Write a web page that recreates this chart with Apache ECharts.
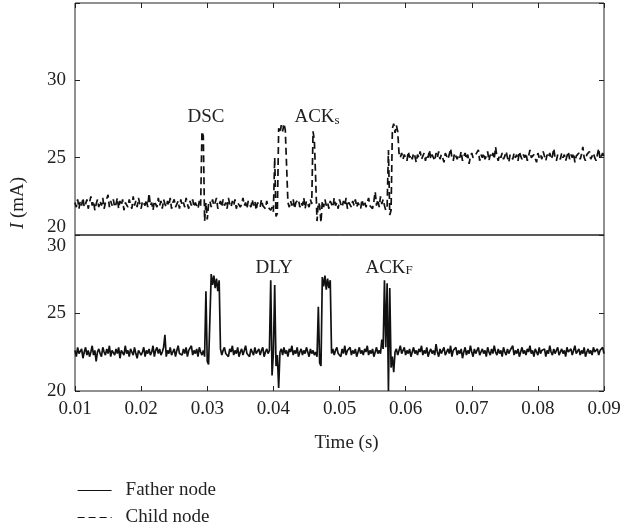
<!DOCTYPE html>
<html>
<head>
<meta charset="utf-8">
<script src="https://cdn.jsdelivr.net/npm/echarts@6/dist/echarts.min.js"></script>
<style>html,body{margin:0;padding:0;background:#fff}#c{width:625px;height:529px}</style>
</head>
<body>
<div id="c"></div>
<script>
// Sampling of both traces (seconds)
const timeStart = 0.01;
const timeStep = 0.0002;
const xTicks = [0.01, 0.02, 0.03, 0.04, 0.05, 0.06, 0.07, 0.08, 0.09];
const topTicks = [20, 25, 30];
const bottomTicks = [20, 25, 30];

// Child node current (mA), top panel
const childCurrent = [
22.1,21.8,22.3,21.7,22.2,21.9,22.4,21.8,22.0,22.3,
21.7,22.1,22.5,21.9,22.2,21.6,22.0,22.3,21.8,22.2,
21.9,22.4,21.7,22.1,22.0,22.6,21.8,22.2,21.9,22.3,
21.8,22.0,22.4,21.7,22.2,21.9,22.3,21.6,22.1,22.2,
21.8,22.3,22.0,21.7,22.5,21.9,22.2,21.8,22.4,22.0,
21.7,22.2,22.1,21.9,22.3,21.8,22.7,21.9,22.1,21.6,
22.2,22.0,21.8,22.4,21.9,22.2,21.7,22.3,22.0,21.8,
22.2,21.9,22.4,21.7,22.1,22.3,21.8,22.0,22.2,21.7,
22.3,21.9,22.1,21.8,22.4,22.0,21.7,22.2,21.9,22.3,
21.8,22.1,22.0,21.7,22.2,21.9,26.7,26.4,20.9,22.1,
21.0,22.0,22.2,21.8,22.3,21.9,22.1,22.4,21.7,22.0,
22.2,21.8,22.3,21.9,22.1,21.7,22.4,22.0,21.8,22.2,
21.9,22.3,21.7,22.1,22.2,21.8,22.0,22.4,21.9,22.1,
21.7,22.2,22.0,21.8,22.3,21.9,22.2,21.6,22.1,22.0,
21.8,22.3,21.9,22.0,21.7,22.2,21.8,21.9,21.6,21.8,
21.5,25.0,21.2,21.4,26.9,26.6,27.1,26.7,27.2,26.8,
26.9,22.1,21.8,22.2,21.9,22.3,21.7,22.1,22.0,22.3,
21.8,22.1,21.9,22.4,21.7,22.2,22.0,21.8,22.3,22.0,
26.7,26.1,23.6,20.9,22.1,21.9,20.8,22.2,21.8,22.3,
21.9,22.1,21.7,22.2,22.0,21.8,22.4,21.9,22.1,21.7,
22.3,22.0,21.8,22.2,21.9,22.4,21.7,22.1,22.0,21.8,
22.2,21.9,22.3,21.8,22.1,22.0,21.7,22.3,21.9,22.2,
21.8,22.1,22.4,21.9,22.0,21.7,22.2,22.8,21.9,22.3,
21.8,22.5,22.0,22.3,21.9,21.6,21.8,25.5,21.3,21.6,
26.9,27.2,26.6,27.1,26.7,25.3,25.0,25.3,24.9,25.2,
25.1,24.8,25.4,25.0,25.2,24.9,25.3,25.1,24.7,25.2,
25.0,25.4,24.9,25.1,25.3,24.8,25.2,25.0,25.5,24.9,
25.2,25.1,24.8,25.3,25.0,25.4,24.9,25.2,25.0,24.7,
25.3,25.1,24.9,25.2,25.6,25.0,24.8,25.3,25.1,24.9,
25.2,25.0,25.4,24.8,25.1,25.3,24.9,25.2,24.6,25.1,
25.3,25.0,24.9,25.2,25.1,25.5,24.8,25.2,25.0,25.3,
24.9,25.1,25.4,24.8,25.2,25.0,25.3,24.9,25.7,25.1,
24.8,25.2,25.0,25.3,24.9,25.1,25.4,25.0,24.7,25.2,
25.1,24.9,25.3,25.0,25.2,24.8,25.4,25.1,24.9,25.2,
25.0,25.3,24.8,25.1,25.5,25.0,24.9,25.2,25.1,24.7,
25.3,25.0,25.2,24.9,25.4,25.1,24.8,25.2,25.0,25.3,
24.9,25.1,25.6,25.0,24.8,25.2,25.1,24.9,25.3,25.0,
25.2,24.8,25.1,25.4,24.9,25.2,25.0,25.3,24.7,25.1,
25.0,25.3,24.9,25.2,25.7,25.0,24.8,25.2,25.1,25.4,
24.9,25.1,25.3,25.0,24.8,25.2,25.6,24.9,25.1,25.3,
25.0
];

// Father node current (mA), bottom panel
const fatherCurrent = [
22.6,22.2,22.8,22.4,22.3,22.7,22.1,22.5,22.8,22.3,
22.6,22.2,22.5,22.9,22.3,22.6,21.9,22.5,22.7,22.4,
22.2,22.8,22.5,22.3,22.7,22.4,22.9,22.2,22.6,22.5,
22.3,22.7,22.4,22.8,22.1,22.6,22.5,22.3,22.9,22.4,
22.6,22.2,22.7,22.5,22.3,22.8,22.4,22.1,22.6,22.7,
22.3,22.5,22.8,22.2,22.6,22.4,22.7,22.3,22.5,22.9,
22.2,22.6,22.8,22.4,22.7,22.3,22.5,22.8,23.6,22.2,
22.6,22.4,22.8,22.3,22.5,22.7,22.2,22.6,22.9,22.4,
22.5,22.3,22.7,22.4,22.8,22.2,22.6,22.5,22.9,22.3,
22.6,22.4,22.7,22.2,22.8,22.5,22.3,22.6,22.2,26.4,
21.9,21.7,21.6,27.5,26.8,27.4,26.6,27.2,26.4,27.1,
22.7,22.3,22.6,22.8,22.4,22.5,22.2,22.7,22.5,22.9,
22.3,22.6,22.4,22.8,22.2,22.5,22.7,22.3,22.6,22.9,
22.4,22.5,22.2,22.7,22.6,22.3,22.8,22.4,22.5,22.7,
22.3,22.6,22.8,22.2,22.5,22.7,22.4,22.6,27.1,21.0,
22.4,26.8,21.6,22.3,20.2,22.5,22.7,22.3,22.8,22.4,
22.6,22.2,22.7,22.5,22.9,22.3,22.6,22.4,22.8,22.2,
22.5,22.7,22.3,22.6,22.4,22.8,22.5,22.2,22.7,22.4,
22.6,22.3,22.5,22.2,25.4,21.8,21.6,27.3,26.7,27.4,
26.5,27.2,26.6,27.1,22.4,22.7,22.3,22.6,22.8,22.4,
22.5,22.2,22.7,22.4,22.9,22.3,22.6,22.5,22.8,22.3,
22.6,22.4,22.7,22.2,22.5,22.8,22.4,22.6,22.3,22.7,
22.5,22.9,22.3,22.6,22.4,22.7,22.2,22.5,22.8,22.4,
22.6,22.4,23.3,22.7,27.1,22.8,26.9,20.0,26.6,21.5,
22.2,21.2,22.5,22.7,22.3,22.6,22.9,22.4,22.5,22.8,
22.3,22.6,22.4,22.7,22.2,22.5,22.8,22.4,22.6,22.3,
22.7,22.5,22.9,22.3,22.6,22.4,22.8,22.2,22.5,22.7,
22.4,22.6,22.3,23.0,22.5,22.2,22.7,22.4,22.6,22.8,
22.3,22.5,22.7,22.4,22.9,22.2,22.6,22.5,22.8,22.3,
22.6,22.4,22.7,22.1,22.5,22.8,22.3,22.6,22.4,22.9,
22.5,22.2,22.7,22.4,22.6,22.8,22.3,22.5,22.7,22.4,
22.6,22.2,22.8,22.5,22.3,22.7,22.4,22.9,22.5,22.3,
22.7,22.4,22.6,22.2,22.8,22.5,22.3,22.7,22.4,22.6,
22.5,22.9,22.3,22.6,22.4,22.7,22.2,22.5,22.8,22.4,
22.6,22.3,22.7,22.5,22.9,22.4,22.6,22.2,22.7,22.5,
22.3,22.8,22.4,22.6,22.5,22.7,22.2,22.6,22.4,22.9,
22.5,22.3,22.7,22.4,22.6,22.8,22.3,22.5,22.7,22.4,
22.6,22.2,22.8,22.5,22.4,22.7,22.3,22.6,22.9,22.4,
22.5,22.7,22.3,22.6,22.4,22.8,22.2,22.5,22.7,22.4,
22.6,22.3,22.8,22.5,22.4,22.7,22.3,22.6,22.5,22.8,
22.4
];

// Event labels (time s, current mA)
const topLabels = [
  { text: 'DSC', t: 0.0298, I: 27.6 },
  { text: 'ACK', sub: 's', t: 0.0466, I: 27.6 }
];
const bottomLabels = [
  { text: 'DLY', t: 0.0401, I: 27.9 },
  { text: 'ACK', sub: 'F', t: 0.0575, I: 27.9 }
];

const FONT = "'Liberation Serif', 'DejaVu Serif', serif";
const INK = '#222';

function toPairs(values) {
  return values.map((v, i) => [Math.round((timeStart + i * timeStep) * 1e5) / 1e5, v]);
}
function labelPoints(list) {
  return list.map(l => ({
    coord: [l.t, l.I],
    value: l.sub ? '{m|' + l.text + '}{s|' + l.sub + '}' : '{m|' + l.text + '}'
  }));
}
const richLabel = {
  m: { fontSize: 19, fontFamily: FONT, color: INK },
  s: { fontSize: 13, fontFamily: FONT, color: INK, verticalAlign: 'bottom' }
};

const chart = echarts.init(document.getElementById('c'), null, { renderer: 'canvas' });

const tickStyle = { show: true, inside: true, length: 5, lineStyle: { color: INK, width: 1 } };
const labelBase = { fontSize: 19, fontFamily: FONT, color: INK };
const legendBase = {
  orient: 'vertical', left: 77, itemWidth: 34, itemHeight: 14, padding: 0,
  itemStyle: { color: 'rgba(0,0,0,0)', borderColor: 'rgba(0,0,0,0)', borderWidth: 0 },
  lineStyle: { width: 1.2 },
  textStyle: { fontSize: 19, fontFamily: FONT, color: INK, padding: [0, 0, 0, 9] }
};

chart.setOption({
  animation: false,
  backgroundColor: '#fff',
  grid: [
    { left: 75, right: 21, top: 3, height: 232, show: true, borderColor: INK, borderWidth: 1, backgroundColor: 'transparent' },
    { left: 75, right: 21, top: 235, height: 156, show: true, borderColor: INK, borderWidth: 1, backgroundColor: 'transparent' }
  ],
  xAxis: [
    { type: 'value', gridIndex: 0, position: 'top', min: xTicks[0], max: xTicks[xTicks.length - 1], interval: 0.01,
      axisLine: { show: false }, axisTick: tickStyle, axisLabel: { show: false }, splitLine: { show: false } },
    { type: 'value', gridIndex: 1, position: 'bottom', min: xTicks[0], max: xTicks[xTicks.length - 1], interval: 0.01,
      axisLine: { show: false }, axisTick: tickStyle, splitLine: { show: false },
      axisLabel: Object.assign({ margin: 9, formatter: v => v.toFixed(2) }, labelBase),
      name: 'Time (s)', nameLocation: 'middle', nameGap: 43,
      nameTextStyle: { fontSize: 19, fontFamily: FONT, color: INK, padding: [0, 0, 0, 14] } }
  ],
  yAxis: [
    { type: 'value', gridIndex: 0, position: 'left', min: 20, max: 35, interval: 5,
      axisLine: { show: false }, axisTick: tickStyle, splitLine: { show: false },
      axisLabel: Object.assign({ margin: 9,
        formatter: v => (topTicks.indexOf(v) < 0 ? '' : (v === 20 ? '{lo|' + v + '}' : String(v))),
        rich: { lo: { fontSize: 19, fontFamily: FONT, color: INK, padding: [0, 0, 15, 0] } } }, labelBase) },
    { type: 'value', gridIndex: 0, position: 'right', min: 20, max: 35, interval: 5,
      axisLine: { show: false }, axisTick: tickStyle, splitLine: { show: false }, axisLabel: { show: false } },
    { type: 'value', gridIndex: 1, position: 'left', min: 20, max: 30, interval: 5,
      axisLine: { show: false }, axisTick: tickStyle, splitLine: { show: false },
      axisLabel: Object.assign({ margin: 9,
        formatter: v => (bottomTicks.indexOf(v) < 0 ? '' : (v === 30 ? '{hi|' + v + '}' : String(v))),
        rich: { hi: { fontSize: 19, fontFamily: FONT, color: INK, padding: [23, 0, 0, 0] } } }, labelBase) },
    { type: 'value', gridIndex: 1, position: 'right', min: 20, max: 30, interval: 5,
      axisLine: { show: false }, axisTick: tickStyle, splitLine: { show: false }, axisLabel: { show: false } }
  ],
  legend: [
    Object.assign({ top: 481, data: ['Father node'] }, legendBase),
    Object.assign({ top: 508, data: ['Child node'] }, legendBase)
  ],
  graphic: [
    { type: 'text', x: 18, y: 203, rotation: Math.PI / 2,
      style: { text: '{i|I} (mA)', align: 'center', verticalAlign: 'middle', fontSize: 19, fontFamily: FONT, fill: INK,
        rich: { i: { fontStyle: 'italic', fontSize: 19, fontFamily: FONT, fill: INK } } } }
  ],
  series: [
    { name: 'Child node', type: 'line', xAxisIndex: 0, yAxisIndex: 0, data: toPairs(childCurrent),
      symbol: 'none', showSymbol: false, lineStyle: { color: '#111', width: 1.7, type: [7, 4] }, itemStyle: { color: '#111' },
      markPoint: { symbol: 'rect', symbolSize: 0, data: labelPoints(topLabels),
        label: { show: true, position: 'inside', formatter: p => p.value, rich: richLabel } } },
    { name: 'Father node', type: 'line', xAxisIndex: 1, yAxisIndex: 2, data: toPairs(fatherCurrent),
      symbol: 'none', showSymbol: false, lineStyle: { color: '#111', width: 1.7 }, itemStyle: { color: '#111' },
      markPoint: { symbol: 'rect', symbolSize: 0, data: labelPoints(bottomLabels),
        label: { show: true, position: 'inside', formatter: p => p.value, rich: richLabel } } }
  ]
});
</script>
</body>
</html>
